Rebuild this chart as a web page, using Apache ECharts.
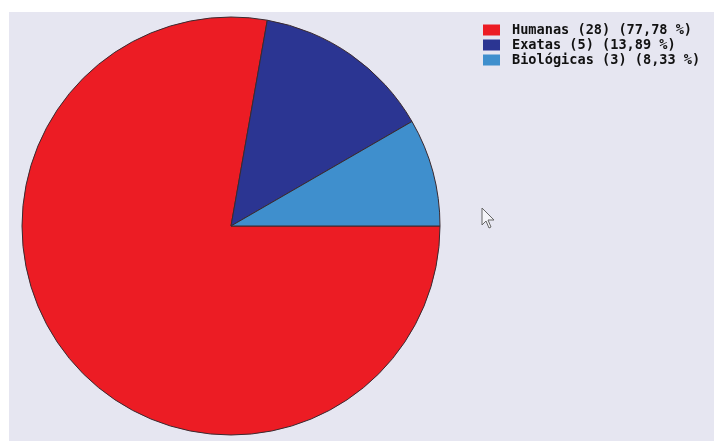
<!DOCTYPE html>
<html><head><meta charset="utf-8">
<script src="https://cdn.jsdelivr.net/npm/echarts@6/dist/echarts.min.js"></script>
<style>html,body{margin:0;padding:0;background:#fff}#c{width:714px;height:441px}</style>
</head><body><div id="c"></div>
<script>
const categories = ['Humanas', 'Exatas', 'Biológicas'];
const counts = [28, 5, 3];
const colors = ['#ec1c24', '#2b3592', '#3f8fcd'];
const total = counts.reduce((a, b) => a + b, 0);
const pctText = v => (v / total * 100).toFixed(2).replace('.', ',');
const chart = echarts.init(document.getElementById('c'));
chart.setOption({
  animation: false,
  backgroundColor: '#ffffff',
  graphic: [
    {type: 'rect', z: -10, shape: {x: 9, y: 12, width: 705, height: 429}, style: {fill: '#e6e6f1'}},
    {type: 'polygon', z: 10, shape: {points: [[482,208],[482,225],[486,221],[489,228],[491,227],[488,220],[494,220]]}, style: {fill: '#f4f4f8', stroke: '#666', lineWidth: 1}}
  ],
  legend: {
    orient: 'vertical', left: 483, top: 23, itemWidth: 17, itemHeight: 11, itemGap: 1, padding: 0,
    icon: 'rect',
    itemStyle: {borderWidth: 0},
    textStyle: {fontFamily: 'DejaVu Sans Mono', fontWeight: 'bold', fontSize: 13.6, lineHeight: 14, color: '#111', padding: [0, 0, 0, 7]},
    formatter: name => {
      const i = categories.indexOf(name);
      return name + ' (' + counts[i] + ') (' + pctText(counts[i]) + ' %)';
    },
    data: categories
  },
  series: [{
    type: 'pie', center: [231, 226], radius: 209, startAngle: 0, clockwise: true,
    label: {show: false}, labelLine: {show: false},
    itemStyle: {borderColor: '#3a2a30', borderWidth: 1},
    data: categories.map((n, i) => ({name: n, value: counts[i], itemStyle: {color: colors[i]}}))
  }]
});
</script></body></html>
